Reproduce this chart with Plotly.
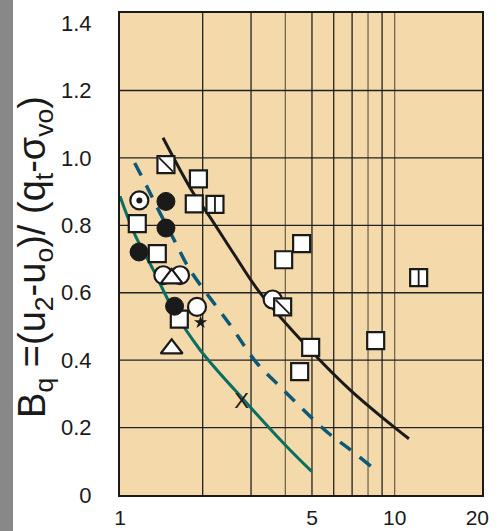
import plotly.graph_objects as go
import math

# ---------------- data ----------------
# open squares
sq_x = [1.93, 1.864, 1.156, 1.367, 1.644, 4.585, 3.944, 8.53, 4.946, 4.51]
sq_y = [0.938, 0.864, 0.805, 0.716, 0.522, 0.746, 0.698, 0.458, 0.438, 0.366]
# filled circles
fc_x = [1.47, 1.47, 1.173, 1.58]
fc_y = [0.871, 0.792, 0.721, 0.56]
# open circles
oc_x = [1.438, 1.654, 1.907, 3.596]
oc_y = [0.652, 0.652, 0.558, 0.580]
# open triangles
tri_x = [1.542, 1.542]
tri_y = [0.642, 0.434]
# squares with diagonal
diag_x = [1.47, 3.91]
diag_y = [0.98, 0.558]
# split squares
split_x = [2.217, 12.23]
split_y = [0.862, 0.645]
# circle with dot
dot_x = [1.176]
dot_y = [0.874]
# small star
star_x = [1.966]
star_y = [0.512]
# letter X point
xl_x = [2.77]
xl_y = [0.273]

# curves
black_x = [1.434, 1.848, 2.097, 2.585, 3.2, 4.918, 6.88, 9.88, 11.27]
black_y = [1.06, 0.896, 0.832, 0.718, 0.605, 0.431, 0.312, 0.2035, 0.167]
dash_x = [1.131, 1.251, 1.398, 1.585, 1.798, 2.515, 3.145, 3.823, 4.65, 5.73, 6.78, 8.2]
dash_y = [0.985, 0.916, 0.837, 0.752, 0.668, 0.505, 0.392, 0.322, 0.253, 0.184, 0.139, 0.085]
green_x = [1.0, 1.134, 1.322, 1.563, 1.955, 2.89, 4.044, 4.987]
green_y = [0.886, 0.772, 0.668, 0.55, 0.431, 0.273, 0.144, 0.07]

# axes
x_tickvals = [1, 5, 10, 20]
x_ticktext = ["1", "5", "10", "20"]
y_tickvals = [0, 0.2, 0.4, 0.6, 0.8, 1.0, 1.2, 1.4]
y_ticktext = ["0", "0.2", "0.4", "0.6", "0.8", "1.0", "1.2", "1.4"]
grid_x_dark = [2, 3, 5, 6, 7, 9]
grid_x_light = [4, 8, 10]
grid_y = [0.2, 0.4, 0.6, 0.8, 1.0, 1.2]

FONT = "Liberation Sans, Arial, sans-serif"
BLACK = "#1a1a1a"

fig = go.Figure()

# lines
fig.add_trace(go.Scatter(x=green_x, y=green_y, mode="lines",
                         line=dict(color="#0b6e62", width=3, shape="spline"),
                         showlegend=False, hoverinfo="skip"))
fig.add_trace(go.Scatter(x=dash_x, y=dash_y, mode="lines",
                         line=dict(color="#0c5878", width=3.5, dash="14px,11px", shape="spline"),
                         showlegend=False, hoverinfo="skip"))
fig.add_trace(go.Scatter(x=black_x, y=black_y, mode="lines",
                         line=dict(color=BLACK, width=3, shape="spline"),
                         showlegend=False, hoverinfo="skip"))

mline = dict(color=BLACK, width=2.2)

# open circles
fig.add_trace(go.Scatter(x=oc_x, y=oc_y, mode="markers",
                         marker=dict(symbol="circle", size=18, color="white", line=mline),
                         showlegend=False))
# squares
fig.add_trace(go.Scatter(x=sq_x, y=sq_y, mode="markers",
                         marker=dict(symbol="square", size=17, color="white", line=mline),
                         showlegend=False))
# diagonal squares
fig.add_trace(go.Scatter(x=diag_x, y=diag_y, mode="markers",
                         marker=dict(symbol="square", size=17, color="white", line=mline),
                         showlegend=False))
fig.add_trace(go.Scatter(x=diag_x, y=diag_y, mode="markers",
                         marker=dict(symbol="line-nw", size=14, color=BLACK,
                                     line=dict(color=BLACK, width=1.8)),
                         showlegend=False))
# split squares
fig.add_trace(go.Scatter(x=split_x, y=split_y, mode="markers",
                         marker=dict(symbol="square", size=17, color="white", line=mline),
                         showlegend=False))
fig.add_trace(go.Scatter(x=split_x, y=split_y, mode="markers",
                         marker=dict(symbol="line-ns", size=12, color=BLACK,
                                     line=dict(color=BLACK, width=1.8)),
                         showlegend=False))
# triangles
fig.add_trace(go.Scatter(x=tri_x, y=tri_y, mode="markers",
                         marker=dict(symbol="triangle-up", size=19, color="white", line=mline),
                         showlegend=False))
# filled circles
fig.add_trace(go.Scatter(x=fc_x, y=fc_y, mode="markers",
                         marker=dict(symbol="circle", size=18, color=BLACK, line=dict(color=BLACK, width=1)),
                         showlegend=False))
# dotted circle
fig.add_trace(go.Scatter(x=dot_x, y=dot_y, mode="markers",
                         marker=dict(symbol="circle", size=18, color="white", line=mline),
                         showlegend=False))
fig.add_trace(go.Scatter(x=dot_x, y=dot_y, mode="markers",
                         marker=dict(symbol="circle", size=6, color=BLACK),
                         showlegend=False))
# star
fig.add_trace(go.Scatter(x=star_x, y=star_y, mode="markers",
                         marker=dict(symbol="star", size=10, color=BLACK),
                         showlegend=False))
# X letter
fig.add_trace(go.Scatter(x=xl_x, y=xl_y, mode="text", text=["X"],
                         textfont=dict(family=FONT, size=22, color=BLACK),
                         showlegend=False))

shapes = []
for gx in grid_x_dark:
    shapes.append(dict(type="line", xref="x", yref="paper", x0=gx, x1=gx, y0=0, y1=1,
                       line=dict(color="#222222", width=1.3), layer="below"))
for gx in grid_x_light:
    shapes.append(dict(type="line", xref="x", yref="paper", x0=gx, x1=gx, y0=0, y1=1,
                       line=dict(color="#76654f", width=1.3), layer="below"))
for gy in grid_y:
    shapes.append(dict(type="line", xref="paper", yref="y", x0=0, x1=1, y0=gy, y1=gy,
                       line=dict(color="#222222", width=1.3), layer="below"))
# gray strip at far left
shapes.append(dict(type="rect", xref="paper", yref="paper",
                   x0=-120 / 362, x1=-107 / 362, y0=-36 / 482, y1=1 + 13 / 482,
                   fillcolor="#888888", line=dict(width=0), layer="below"))

fig.update_layout(
    width=498, height=531,
    margin=dict(l=120, r=16, t=13, b=36, autoexpand=False),
    paper_bgcolor="white",
    plot_bgcolor="#F4DAAA",
    shapes=shapes,
    font=dict(family=FONT, color=BLACK),
    xaxis=dict(type="log", range=[0, math.log10(20.8)], tickvals=x_tickvals, ticktext=x_ticktext,
               showgrid=False, zeroline=False, ticks="", showline=True, linecolor=BLACK,
               linewidth=2, mirror=True, tickfont=dict(size=21, family=FONT, color=BLACK),
               ticklabelstandoff=3, automargin=False),
    yaxis=dict(range=[0, 1.43], tickvals=y_tickvals, ticktext=y_ticktext,
               showgrid=False, zeroline=False, ticks="", showline=True, linecolor=BLACK,
               linewidth=2, mirror=True, tickfont=dict(size=22, family=FONT, color=BLACK),
               ticklabelstandoff=22, automargin=False),
    annotations=[dict(
        text="B<sub>q</sub> =(u<sub>2</sub>-u<sub>o</sub>)/ (q<sub>t</sub>-σ<sub>vo</sub>)",
        xref="paper", yref="paper", x=(35 - 120) / 362, y=0.494,
        xanchor="center", yanchor="middle", textangle=-90, showarrow=False,
        font=dict(family=FONT, size=38, color=BLACK))],
)

fig.write_html("out.html", config={"displayModeBar": False},
               post_script="document.body.style.margin='0';document.body.style.overflow='hidden';")
